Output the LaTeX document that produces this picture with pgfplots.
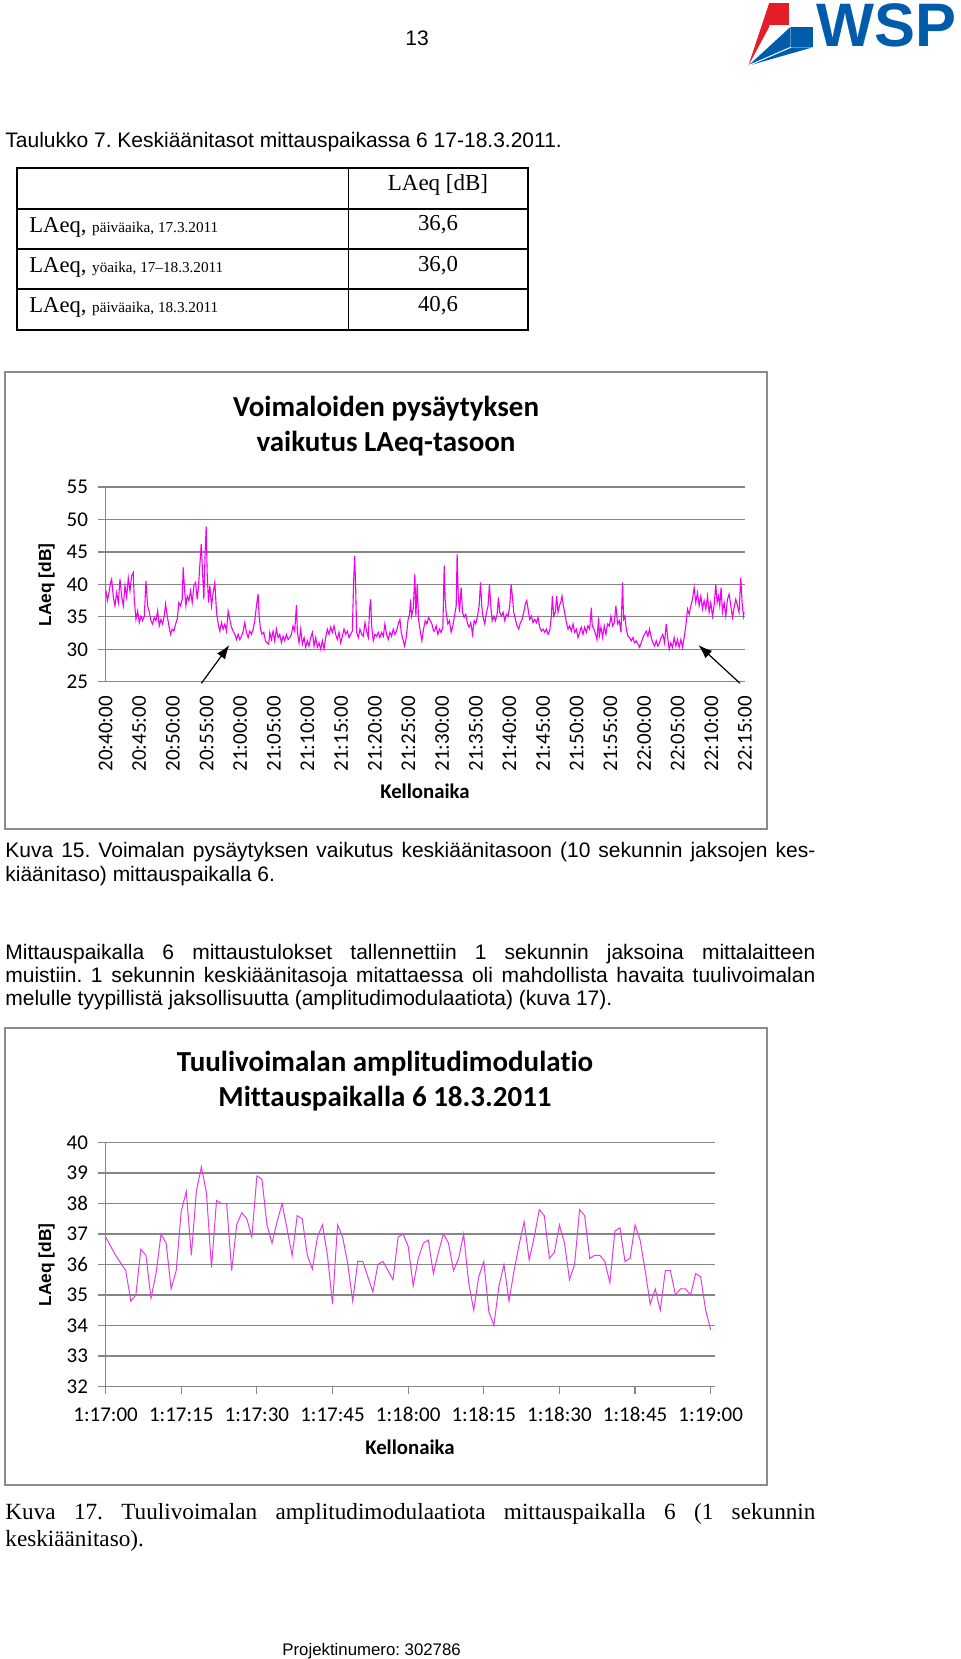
\documentclass[border=0pt]{standalone}
\usepackage{pgfplots}
\pgfplotsset{compat=1.18}
\usepackage{pgfplotstable}
\usepackage{fontspec}
\setmainfont{Liberation Sans}
\newfontfamily\carlito{Carlito}[Ligatures={NoCommon,NoContextual,NoRare}]
\newfontfamily\tnr{Liberation Serif}
\usetikzlibrary{arrows.meta}
\frenchspacing
\definecolor{gridgray}{RGB}{134,134,134}
\definecolor{boxgray}{RGB}{140,140,140}
\definecolor{wspblue}{RGB}{0,92,170}
\definecolor{wspred}{RGB}{228,30,38}
\definecolor{linemag}{RGB}{240,0,240}
\definecolor{linemagb}{RGB}{226,60,226}

\pgfplotstableread{
t v
0 39.3
0.26 37.5
0.50 38.7
0.75 40.3
0.90 40.8
1.15 38.0
1.39 36.7
1.64 38.7
1.89 37.2
2.14 40.8
2.38 38.2
2.63 36.7
2.88 39.8
3.13 38.0
3.37 41.0
3.62 39.0
3.87 41.3
4.11 41.8
4.26 37.7
4.51 34.6
4.76 35.9
5.00 34.1
5.25 35.1
5.50 34.4
5.75 35.1
6.00 40.5
6.24 36.7
6.49 35.7
6.74 34.4
6.98 33.9
7.23 34.9
7.48 34.4
7.73 35.9
7.97 33.6
8.22 34.6
8.47 33.9
8.71 35.1
8.91 37.0
9.16 35.1
9.41 33.6
9.65 32.3
9.90 33.1
10.15 32.8
10.40 33.9
10.64 34.6
10.89 37.2
11.14 36.7
11.38 37.7
11.53 42.6
11.73 39.3
11.93 36.7
12.13 38.2
12.38 37.5
12.62 39.0
12.87 37.2
13.12 39.8
13.37 40.3
13.61 37.7
13.81 39.8
14.01 43.1
14.21 46.2
14.41 41.8
14.60 37.7
14.80 45.4
14.95 48.9
15.09 41.8
15.29 37.2
15.49 39.8
15.74 36.7
15.98 38.7
16.23 40.3
16.48 35.7
16.73 33.9
16.97 32.8
17.22 34.1
17.47 33.1
17.72 33.9
17.96 32.8
18.21 35.9
18.46 34.6
18.70 33.4
18.95 32.8
19.20 32.3
19.45 31.5
19.69 32.3
19.94 31.5
20.19 32.0
20.44 32.8
20.68 34.1
20.93 32.6
21.18 31.8
21.42 32.8
21.67 32.3
21.92 33.1
22.17 34.4
22.41 36.7
22.66 38.5
22.81 35.1
23.01 33.1
23.25 32.3
23.50 32.6
23.75 31.3
24.00 31.0
24.24 30.8
24.39 32.6
24.64 31.5
24.89 32.8
25.13 31.3
25.38 33.1
25.63 31.8
25.88 32.3
26.12 31.0
26.37 32.0
26.62 31.3
26.86 32.3
27.11 31.5
27.36 31.8
27.61 32.3
27.85 33.6
28.10 32.8
28.35 36.8
28.50 32.6
28.74 31.0
28.99 33.1
29.24 30.8
29.49 31.8
29.73 30.3
29.98 31.3
30.23 30.5
30.47 31.8
30.72 32.6
30.97 30.5
31.22 31.8
31.46 30.3
31.71 31.0
31.96 30.0
32.21 31.3
32.45 30.0
32.70 31.8
32.95 33.1
33.20 32.3
33.44 33.4
33.69 32.6
33.94 33.6
34.18 32.3
34.43 31.5
34.68 32.6
34.93 31.0
35.17 32.0
35.42 33.1
35.67 32.3
35.92 32.8
36.16 31.8
36.41 32.3
36.66 32.8
36.85 40.3
37.00 44.4
37.15 39.8
37.30 32.6
37.55 31.8
37.79 33.1
38.04 32.3
38.29 32.0
38.54 34.1
38.78 32.8
39.03 31.8
39.23 36.2
39.38 37.7
39.53 33.6
39.77 31.3
40.02 32.3
40.27 32.0
40.51 32.6
40.76 31.8
41.01 32.6
41.26 32.0
41.50 33.9
41.75 32.3
42.00 31.5
42.25 32.6
42.49 32.0
42.74 33.1
42.99 32.3
43.23 32.8
43.48 33.9
43.73 34.6
43.93 32.6
44.17 31.5
44.42 30.5
44.67 31.8
44.92 34.4
45.16 35.4
45.31 37.7
45.46 35.1
45.71 36.2
45.95 41.6
46.10 35.1
46.30 40.0
46.50 34.6
46.75 32.8
46.99 31.3
47.24 33.1
47.49 34.4
47.74 33.9
47.98 34.9
48.23 34.4
48.48 33.9
48.72 32.8
48.87 32.8
49.12 33.6
49.37 32.3
49.61 33.1
49.86 32.6
50.11 33.4
50.31 42.9
50.45 37.7
50.60 35.7
50.85 33.9
51.10 34.4
51.34 32.6
51.59 33.6
51.84 35.1
52.09 36.7
52.23 44.7
52.38 38.7
52.58 35.7
52.83 39.5
53.03 35.7
53.27 34.9
53.52 35.4
53.77 33.9
54.02 33.4
54.26 34.1
54.51 32.3
54.76 34.4
55.00 33.9
55.25 35.1
55.50 36.7
55.70 40.3
55.89 36.7
56.09 34.9
56.34 33.9
56.59 35.7
56.83 36.7
57.03 40.0
57.23 36.7
57.43 34.4
57.68 35.1
57.92 34.4
58.17 35.4
58.37 38.0
58.56 35.7
58.81 35.1
59.06 35.7
59.31 34.4
59.55 35.4
59.80 35.1
60.05 36.7
60.25 40.0
60.44 38.2
60.64 35.7
60.89 34.6
61.14 33.6
61.38 33.1
61.63 34.1
61.88 34.6
62.13 35.7
62.37 37.0
62.57 37.5
62.77 36.2
63.02 34.6
63.26 35.1
63.51 34.1
63.76 34.6
64.01 34.1
64.25 34.9
64.50 33.4
64.75 32.8
65.00 33.1
65.24 32.6
65.49 33.1
65.74 32.3
65.98 32.8
66.23 35.1
66.38 38.2
66.58 35.1
66.82 35.7
67.02 38.2
67.22 35.7
67.42 36.7
67.62 37.2
67.81 38.2
68.01 36.7
68.21 35.7
68.46 34.1
68.70 33.1
68.95 33.6
69.20 32.8
69.45 33.9
69.69 32.6
69.94 33.1
70.19 31.8
70.43 32.6
70.68 33.4
70.93 32.3
71.18 33.4
71.42 32.6
71.67 33.6
71.92 33.1
72.17 36.4
72.31 33.6
72.56 33.1
72.81 32.3
73.01 31.5
73.25 34.9
73.35 32.0
73.60 33.4
73.85 31.8
74.09 33.6
74.34 32.3
74.59 33.9
74.84 33.6
75.08 35.1
75.33 33.6
75.58 34.1
75.82 36.7
76.07 33.9
76.32 34.4
76.57 32.6
76.81 40.3
76.96 34.6
77.16 35.1
77.36 33.1
77.61 32.0
77.85 31.8
78.10 31.3
78.35 31.8
78.59 31.0
78.84 31.3
79.09 30.8
79.34 30.3
79.58 31.0
79.83 31.8
80.08 32.3
80.33 32.8
80.57 32.0
80.82 33.1
81.07 31.8
81.31 31.0
81.56 30.5
81.81 31.3
82.06 30.5
82.30 31.0
82.55 31.8
82.80 32.3
83.05 31.0
83.29 33.9
83.49 32.0
83.74 30.0
83.98 31.0
84.23 30.3
84.48 31.8
84.73 30.5
84.97 31.5
85.22 30.3
85.47 31.5
85.72 30.3
85.96 31.8
86.21 33.6
86.46 36.2
86.71 35.4
86.95 36.7
87.20 37.7
87.45 39.5
87.69 37.2
87.94 38.7
88.19 36.7
88.44 38.2
88.68 36.2
88.93 37.5
89.18 36.2
89.43 38.2
89.67 35.7
89.92 37.2
90.17 35.1
90.41 36.7
90.66 40.0
90.86 37.2
91.06 38.2
91.25 36.7
91.45 39.5
91.65 35.7
91.90 37.2
92.15 35.1
92.39 37.7
92.64 38.5
92.89 36.7
93.14 34.9
93.38 36.4
93.63 37.7
93.88 36.7
94.12 35.7
94.37 41.0
94.57 37.2
94.77 35.1
94.87 35.7
}\topdata

\pgfplotstableread{
t v
0 36.9
1 36.6
2 36.3
3 36.05
4 35.8
5 34.8
6 35.0
7 36.5
8 36.3
9 34.9
10 35.7
11 37.0
12 36.7
13 35.2
14 35.8
15 37.75
16 38.4
17 36.3
18 38.4
19 39.2
20 38.35
21 35.9
22 38.1
23 38.0
24 38.0
25 35.8
26 37.3
27 37.7
28 37.5
29 36.9
30 38.9
31 38.8
32 37.3
33 36.7
34 37.4
35 38.0
36 37.15
37 36.3
38 37.6
39 37.5
40 36.3
41 35.85
42 36.9
43 37.3
44 36.3
45 34.7
46 37.3
47 36.9
48 36.05
49 34.8
50 36.1
51 36.1
52 35.6
53 35.1
54 36.0
55 36.1
56 35.8
57 35.5
58 36.9
59 37.0
60 36.6
61 35.3
62 36.2
63 36.7
64 36.8
65 35.7
66 36.4
67 37.0
68 36.7
69 35.8
70 36.2
71 37.0
72 35.4
73 34.5
74 35.6
75 36.1
76 34.45
77 34.0
78 35.3
79 36.0
80 34.8
81 35.8
82 36.65
83 37.4
84 36.15
85 36.9
86 37.8
87 37.6
88 36.2
89 36.4
90 37.3
91 36.7
92 35.5
93 36.0
94 37.8
95 37.6
96 36.2
97 36.3
98 36.3
99 36.1
100 35.4
101 37.1
102 37.2
103 36.1
104 36.2
105 37.3
106 36.8
107 35.8
108 34.7
109 35.2
110 34.5
111 35.8
112 35.8
113 35.0
114 35.2
115 35.2
116 35.0
117 35.7
118 35.6
119 34.5
120 33.85
}\botdata

\pgfplotsset{excel/.style={
  scale only axis,
  axis x line*=bottom, axis y line*=left,
  axis line style={draw=gridgray, line width=0.6pt},
  ymajorgrids, grid style={draw=gridgray, line width=0.6pt},
  tick align=outside,
  ytick style={draw=gridgray, line width=0.6pt},
  major tick length=3.8pt,
  tick label style={font=\carlito\fontsize{10.5}{12}\selectfont},
  yticklabel style={xshift=-1.5pt},
  /pgf/number format/assume math mode=true,
  title style={font=\carlito\bfseries\fontsize{14.5}{17.75}\selectfont, align=center, anchor=center},
  xlabel style={font=\carlito\bfseries\fontsize{10.4}{12}\selectfont, anchor=center},
  ylabel style={font=\bfseries\fontsize{8.7}{10}\selectfont, anchor=center},
}}

\begin{document}
\begin{tikzpicture}
\useasboundingbox (0,0) rectangle (480pt,-829.5pt);
\begin{scope}[x=0.5pt,y=-0.5pt]
  % page number
  \node[font=\fontsize{10.5}{12}\selectfont, inner sep=0, anchor=base] at (417,46) {13};
  % logo
  \fill[wspred] (769.3,2.7) rectangle (789.3,25.3);
  \fill[wspred] (769.3,2.7) -- (769.3,26.7) -- (748.3,65.7) -- cycle;
  \fill[wspblue] (790.7,26.7) rectangle (812.7,47.3);
  \fill[wspblue] (790.7,26.7) -- (790.7,47.3) -- (812.7,47.3) -- (748.3,65.7) -- cycle;
  \draw[white, line width=0.5pt] (748.3,65.7) -- (790.7,47.3);
  \node[anchor=base west, inner sep=0, text=wspblue, font=\bfseries\fontsize{30.7}{31}\selectfont] at (816,46.7) {WSP};
  % table caption
  \node[anchor=base west, inner sep=0, font=\fontsize{10.5}{12}\selectfont] at (5,148) {Taulukko 7. Keskiäänitasot mittauspaikassa 6 17-18.3.2011.};
  % table
  \draw[line width=0.75pt] (17,168) rectangle (528,330);
  \draw[line width=0.75pt] (17,209) -- (528,209) (17,249) -- (528,249) (17,289) -- (528,289);
  \draw[line width=0.5pt] (348,168) -- (348,330);
  \node[anchor=base, inner sep=0, font=\tnr\fontsize{11.5}{13}\selectfont] at (438,190) {LAeq [dB]};
  \node[anchor=base west, inner sep=0, font=\tnr\fontsize{11.3}{13}\selectfont] at (29,232) {LAeq, {\fontsize{7.6}{9}\selectfont päiväaika, 17.3.2011}};
  \node[anchor=base west, inner sep=0, font=\tnr\fontsize{11.3}{13}\selectfont] at (29,272) {LAeq, {\fontsize{7.6}{9}\selectfont yöaika, 17–18.3.2011}};
  \node[anchor=base west, inner sep=0, font=\tnr\fontsize{11.3}{13}\selectfont] at (29,312) {LAeq, {\fontsize{7.6}{9}\selectfont päiväaika, 18.3.2011}};
  \node[anchor=base, inner sep=0, font=\tnr\fontsize{11.4}{13}\selectfont] at (438,230) {36,6};
  \node[anchor=base, inner sep=0, font=\tnr\fontsize{11.4}{13}\selectfont] at (438,271) {36,0};
  \node[anchor=base, inner sep=0, font=\tnr\fontsize{11.4}{13}\selectfont] at (438,311) {40,6};
  % chart boxes
  \draw[boxgray, line width=1pt] (5,372) rectangle (767,829);
  \draw[boxgray, line width=1pt] (5,1027.5) rectangle (767,1485);
  % captions and paragraph
  \begin{scope}[every node/.style={anchor=base west, inner sep=0, font=\fontsize{10.5}{12}\selectfont}]
    \node at (5,857.5) {\makebox[405pt][s]{Kuva 15. Voimalan pysäytyksen vaikutus keskiäänitasoon (10 sekunnin jaksojen kes-}};
    \node at (5,881) {kiäänitaso) mittauspaikalla 6.};
    \node at (5,959) {\makebox[405pt][s]{Mittauspaikalla 6 mittaustulokset tallennettiin 1 sekunnin jaksoina mittalaitteen}};
    \node at (5,982.5) {\makebox[405pt][s]{muistiin. 1 sekunnin keskiäänitasoja mitattaessa oli mahdollista havaita tuulivoimalan}};
    \node at (5,1005.5) {melulle tyypillistä jaksollisuutta (amplitudimodulaatiota) (kuva 17).};
  \end{scope}
  \begin{scope}[every node/.style={anchor=base west, inner sep=0, font=\tnr\fontsize{11.6}{13}\selectfont}]
    \node at (5,1519) {\makebox[405pt][s]{Kuva 17. Tuulivoimalan amplitudimodulaatiota mittauspaikalla 6 (1 sekunnin}};
    \node at (5,1546) {keskiäänitaso).};
  \end{scope}
  \node[anchor=base west, inner sep=0, font=\fontsize{8.4}{10}\selectfont] at (282,1655) {Projektinumero: 302786};
\end{scope}

% top chart
\begin{axis}[excel,
  at={(52.8pt,-340.85pt)}, anchor=south west,
  width=319.7pt, height=97.35pt,
  xmin=0, xmax=95, ymin=25, ymax=55,
  ytick={25,30,...,55},
  xtick={0,5,...,95},
  xticklabels={20:40:00,20:45:00,20:50:00,20:55:00,21:00:00,21:05:00,21:10:00,21:15:00,21:20:00,21:25:00,21:30:00,21:35:00,21:40:00,21:45:00,21:50:00,21:55:00,22:00:00,22:05:00,22:10:00,22:15:00},
  xticklabel style={rotate=90, anchor=east},
  x tick style={draw=none},
  title={Voimaloiden pysäytyksen\\vaikutus LAeq-tasoon},
  title style={at={(0.4385,1.25)}},
  xlabel={Kellonaika},
  xlabel style={at={(0.4995,-0.565)}},
  ylabel={LAeq [dB]},
  ylabel style={at={(-0.0921,0.4967)}},
]
\addplot[draw=linemag, line width=0.55pt, mark=none] table[x=t,y=v] {\topdata};
\end{axis}

% bottom chart
\begin{axis}[excel,
  at={(52.8pt,-693.25pt)}, anchor=south west,
  width=304.5pt, height=122pt,
  xmin=0, xmax=120.77, ymin=32, ymax=40,
  ytick={32,33,...,40},
  xtick={0,15,...,120},
  xticklabels={1:17:00,1:17:15,1:17:30,1:17:45,1:18:00,1:18:15,1:18:30,1:18:45,1:19:00},
  xticklabel style={yshift=-3.2pt},
  x tick style={draw=gridgray, line width=0.6pt},
  title={Tuulivoimalan amplitudimodulatio\\Mittauspaikalla 6 18.3.2011},
  title style={at={(0.4588,1.2015)}},
  xlabel={Kellonaika},
  xlabel style={at={(0.4998,-0.2508)}},
  ylabel={LAeq [dB]},
  ylabel style={at={(-0.0967,0.498)}},
]
\addplot[draw=linemagb, line width=0.5pt, mark=none] table[x=t,y=v] {\botdata};
\end{axis}

% arrows
\begin{scope}[x=0.5pt,y=-0.5pt]
  \draw[-{Latex[length=7pt,width=5pt]}, line width=0.6pt] (201.4,683.3) -- (229.4,645);
  \draw[-{Latex[length=7pt,width=5pt]}, line width=0.6pt] (740,683.3) -- (698.4,645);
\end{scope}
\end{tikzpicture}
\end{document}
